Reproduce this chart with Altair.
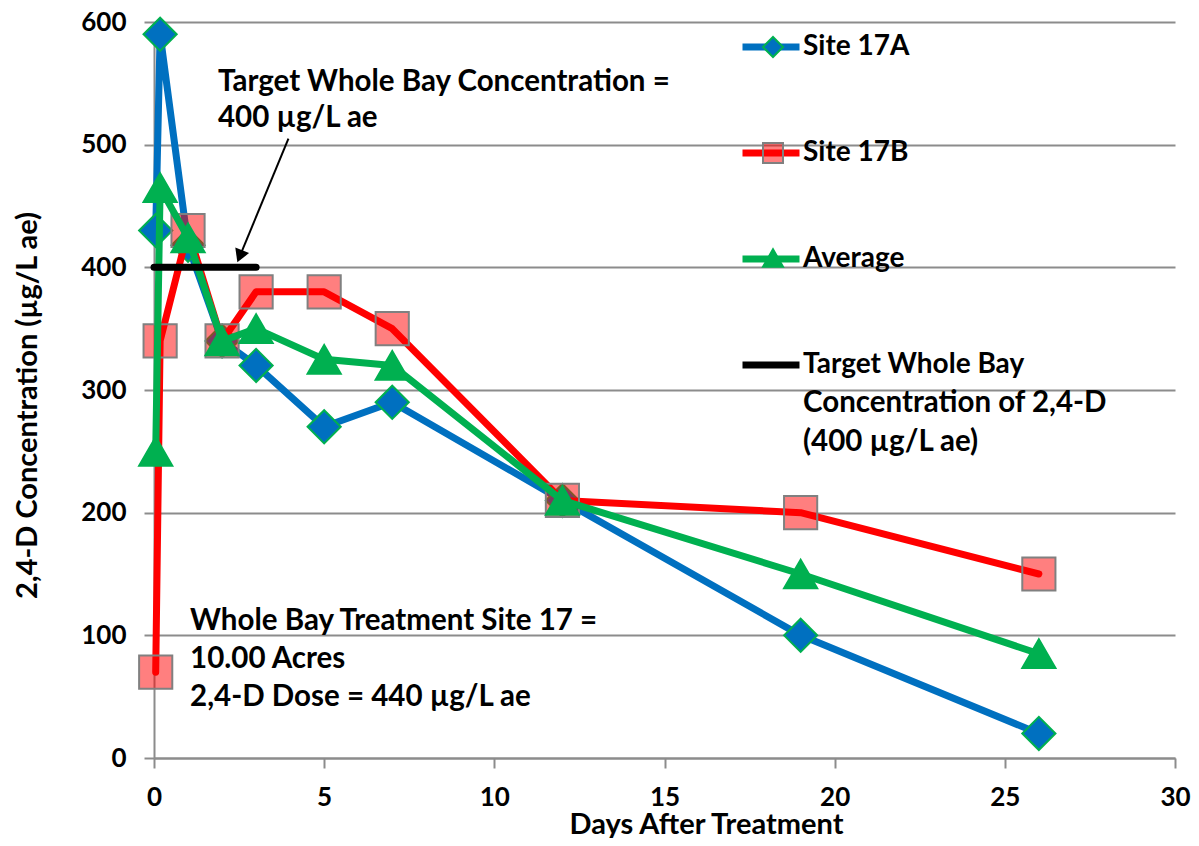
import altair as alt
import pandas as pd

# ---- data ----
days = [0.05, 0.18, 1, 2, 3, 5, 7, 12, 19, 26]
site_17a = [430, 590, 418, 340, 320, 270, 290, 210, 100, 20]
site_17b = [70, 340, 430, 340, 380, 380, 350, 210, 200, 150]
average = [250, 465, 424, 340, 350, 325, 320, 210, 150, 85]
target_days = [0, 3]
target_conc = [400, 400]

series_names = ["Site 17A", "Site 17B", "Average", "Target Whole Bay"]
line_colors = ["#0070C0", "#FF0000", "#00B050", "#000000"]
marker_names = ["Site 17A", "Site 17B", "Average"]
marker_shapes = ["diamond", "square", "triangle-up"]
marker_fills = ["#0070C0", "rgba(255,0,0,0.5)", "#00B050"]
marker_strokes = ["#00B050", "#808080", "#00B050"]

x_ticks = [0, 5, 10, 15, 20, 25, 30]
y_ticks = [0, 100, 200, 300, 400, 500, 600]

# annotation text lines (x in days, y in ug/L)
note_x = [1.88, 1.88, 1.06, 1.06, 1.06, 19.07, 19.07]
note_y = [551, 522, 112, 81, 50, 289, 258]
note_text = [
    "Target Whole Bay Concentration =",
    "400 µg/L ae",
    "Whole Bay Treatment Site 17 =",
    "10.00 Acres",
    "2,4-D Dose = 440 µg/L ae",
    "Concentration of 2,4-D",
    "(400 µg/L ae)",
]
arrow_x = [3.95, 2.52]
arrow_y = [505, 409]
arrow_angle = 202

FONT = "Lato"

rows = []
for name, vals in zip(series_names[:3], [site_17a, site_17b, average]):
    for d, v in zip(days, vals):
        rows.append({"day": d, "conc": v, "series": name, "marker": name})
for d, v in zip(target_days, target_conc):
    rows.append({"day": d, "conc": v, "series": series_names[3], "marker": None})
df = pd.DataFrame(rows)

xenc = alt.X(
    "day:Q",
    scale=alt.Scale(domain=[0, 30], nice=False),
    axis=alt.Axis(
        values=x_ticks, grid=False, title="Days After Treatment",
        tickSize=10, tickColor="#8c8c8c", tickWidth=2,
        domainColor="#8c8c8c", domainWidth=2,
        labelFont=FONT, labelFontSize=26, labelFontWeight="bold", labelColor="black",
        labelPadding=16, labelFlush=False,
        titleFont=FONT, titleFontSize=29, titleFontWeight="bold", titleColor="black",
        titleX=552, titleY=66, titleBaseline="middle", titleAlign="center",
    ),
)
yenc = alt.Y(
    "conc:Q",
    scale=alt.Scale(domain=[0, 600], nice=False),
    axis=alt.Axis(
        values=y_ticks, grid=True, gridColor="#8c8c8c", gridWidth=2,
        title="2,4-D Concentration (µg/L ae)",
        tickSize=10, tickColor="#8c8c8c", tickWidth=2,
        domainColor="#8c8c8c", domainWidth=2,
        labelFont=FONT, labelFontSize=26, labelFontWeight="bold", labelColor="black",
        labelPadding=18,
        titleFont=FONT, titleFontSize=29, titleFontWeight="bold", titleColor="black",
        titleX=-127, titleY=383, titleBaseline="middle", titleAlign="center",
    ),
)

color_enc = alt.Color(
    "series:N",
    scale=alt.Scale(domain=series_names, range=line_colors),
    legend=alt.Legend(
        orient="none", legendX=585, legendY=-7, title=None, padding=0,
        symbolType="stroke", symbolSize=3249, symbolStrokeWidth=7,
        labelFont=FONT, labelFontSize=28, labelFontWeight="bold", labelColor="black",
        labelOffset=0, labelLimit=0, rowPadding=60,
    ),
)
marker_legend = alt.Legend(
    orient="none", legendX=606, legendY=12, title=None, padding=0,
    symbolSize=400, symbolStrokeWidth=2, symbolOpacity=1,
    labelFont=FONT, labelFontSize=26, labelFontWeight="bold", labelExpr="''",
    labelOffset=3, labelLimit=0, rowPadding=78,
)
shape_enc = alt.Shape("marker:N", scale=alt.Scale(domain=marker_names, range=marker_shapes), legend=marker_legend)
fill_enc = alt.Fill("marker:N", scale=alt.Scale(domain=marker_names, range=marker_fills), legend=marker_legend)
stroke_enc = alt.Stroke("marker:N", scale=alt.Scale(domain=marker_names, range=marker_strokes), legend=marker_legend)

base = alt.Chart(df).encode(x=xenc, y=yenc)

layers = []
for name in series_names[:3]:
    sub = base.transform_filter(alt.datum.series == name)
    layers.append(
        sub.mark_line(strokeWidth=7, strokeCap="round", strokeJoin="round").encode(color=color_enc)
    )
    layers.append(
        sub.mark_point(size=1100, strokeWidth=2, opacity=1, fillOpacity=1, filled=False).encode(
            shape=shape_enc, fill=fill_enc, stroke=stroke_enc
        )
    )
layers.append(
    base.transform_filter(alt.datum.series == series_names[3])
    .mark_line(strokeWidth=7, strokeCap="round")
    .encode(color=color_enc)
)

notes = pd.DataFrame({"day": note_x, "conc": note_y, "text": note_text})
layers.append(
    alt.Chart(notes).mark_text(
        align="left", baseline="middle", font=FONT, fontSize=29.5, fontWeight="bold", color="black"
    ).encode(x=alt.X("day:Q"), y=alt.Y("conc:Q"), text="text:N")
)

arrow = pd.DataFrame({"day": arrow_x, "conc": arrow_y})
layers.append(
    alt.Chart(arrow).mark_line(color="black", strokeWidth=2).encode(x="day:Q", y="conc:Q")
)
arrow_head = pd.DataFrame({"day": [arrow_x[1]], "conc": [arrow_y[1]]})
layers.append(
    alt.Chart(arrow_head).mark_point(
        shape="triangle-up", size=220, filled=True, color="black", opacity=1, angle=arrow_angle
    ).encode(x="day:Q", y="conc:Q")
)

chart = alt.layer(*layers).properties(
    width=1021, height=736,
    autosize=alt.AutoSizeParams(type="none"),
    padding={"left": 146, "top": 14, "right": 16, "bottom": 80},
).configure_view(stroke=None).resolve_scale(color="shared")

chart.save("out.html", embed_options={"renderer": "svg", "actions": False})
